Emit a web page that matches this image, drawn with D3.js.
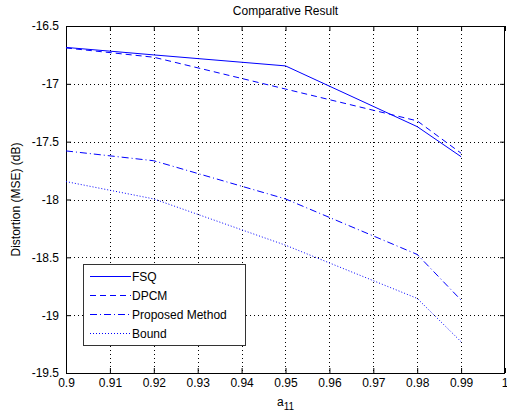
<!DOCTYPE html>
<html>
<head>
<meta charset="utf-8">
<script src="https://cdn.jsdelivr.net/npm/d3@7"></script>
<style>
  body { margin: 0; background: #fff; }
  svg { display: block; font-family: "Liberation Sans", Arial, sans-serif; }
</style>
</head>
<body>
<svg id="chart" width="507" height="412"></svg>
<script>
// values
const a11 = [0.9, 0.92, 0.95, 0.98, 0.99];
const fsq = [-16.685, -16.75, -16.845, -17.37, -17.63];
const dpcm = [-16.69, -16.77, -17.045, -17.32, -17.60];
const proposed = [-17.58, -17.665, -17.995, -18.475, -18.87];
const bound = [-17.845, -17.995, -18.395, -18.855, -19.23];
const xTicks = [0.9, 0.91, 0.92, 0.93, 0.94, 0.95, 0.96, 0.97, 0.98, 0.99, 1];
const yTicks = [-16.5, -17, -17.5, -18, -18.5, -19, -19.5];

const series = [
  { name: 'FSQ', values: fsq, dash: null },
  { name: 'DPCM', values: dpcm, dash: '6,4' },
  { name: 'Proposed Method', values: proposed, dash: '7,3,1,3' },
  { name: 'Bound', values: bound, dash: '1,2' }
];

const margin = { top: 26, right: 2, bottom: 39, left: 66 };
const width = 507 - margin.left - margin.right;
const height = 412 - margin.top - margin.bottom;

const svg = d3.select('#chart');
const g = svg.append('g')
  .attr('transform', `translate(${margin.left},${margin.top})`);

const x = d3.scaleLinear().domain([0.9, 1]).range([0, width]);
const y = d3.scaleLinear().domain([-19.5, -16.5]).range([height, 0]);

// grid
g.append('g').selectAll('line')
  .data(xTicks.slice(1, -1))
  .join('line')
  .attr('x1', d => Math.round(x(d)) + 0.5).attr('x2', d => Math.round(x(d)) + 0.5)
  .attr('y1', 0).attr('y2', height)
  .attr('stroke', '#000').attr('stroke-dasharray', '1,3');
g.append('g').selectAll('line')
  .data(yTicks.slice(1, -1))
  .join('line')
  .attr('y1', d => Math.round(y(d)) + 0.5).attr('y2', d => Math.round(y(d)) + 0.5)
  .attr('x1', 0).attr('x2', width)
  .attr('stroke', '#000').attr('stroke-dasharray', '1,3');

// axes (ticks inward, on all four sides)
const fmt = d => String(d);
const axB = g.append('g').attr('transform', `translate(0,${height})`)
  .call(d3.axisBottom(x).tickValues(xTicks).tickFormat(fmt).tickSizeInner(-5).tickSizeOuter(0).tickPadding(9));
const axT = g.append('g')
  .call(d3.axisTop(x).tickValues(xTicks).tickFormat('').tickSizeInner(-5).tickSizeOuter(0));
const axL = g.append('g')
  .call(d3.axisLeft(y).tickValues(yTicks).tickFormat(fmt).tickSizeInner(-5).tickSizeOuter(0).tickPadding(9));
const axR = g.append('g').attr('transform', `translate(${width},0)`)
  .call(d3.axisRight(y).tickValues(yTicks).tickFormat('').tickSizeInner(-5).tickSizeOuter(0));
[axB, axT, axL, axR].forEach(a => {
  a.select('.domain').remove();
  a.selectAll('text').attr('fill', '#000').style('font-size', '12px');
  a.selectAll('line').attr('stroke', '#000');
});
axB.selectAll('text').attr('dy', '0.45em');
// last label sits at the window edge, nudge it in so it shows whole
axB.selectAll('text').filter(d => d === 1).attr('text-anchor', 'end').attr('dx', 3);
axL.selectAll('text').attr('dx', '2');

g.append('rect')
  .attr('x', 0.5).attr('y', 0.5)
  .attr('width', width - 1).attr('height', height)
  .attr('fill', 'none').attr('stroke', '#000');

// lines
const line = d3.line()
  .x((d, i) => x(a11[i]))
  .y(d => y(d));

g.selectAll('.series')
  .data(series)
  .join('path')
  .attr('class', 'series')
  .attr('d', d => line(d.values))
  .attr('fill', 'none')
  .attr('stroke', '#0000ff')
  .attr('stroke-width', 1)
  .attr('stroke-dasharray', d => d.dash);

// legend
const legend = g.append('g').attr('transform', 'translate(17,238)');
legend.append('rect')
  .attr('x', 0.5).attr('y', 0.5)
  .attr('width', 162).attr('height', 81)
  .attr('fill', '#fff').attr('stroke', '#333');
const items = legend.selectAll('.item')
  .data(series)
  .join('g')
  .attr('class', 'item')
  .attr('transform', (d, i) => `translate(0,${12.5 + i * 19})`);
items.append('line')
  .attr('x1', 7).attr('x2', 48)
  .attr('stroke', '#0000ff')
  .attr('stroke-dasharray', d => d.dash);
items.append('text')
  .attr('x', 49).attr('dy', '0.35em')
  .style('font-size', '12px')
  .text(d => d.name);

// title and labels
svg.append('text')
  .attr('x', margin.left + width / 2).attr('y', 15)
  .attr('text-anchor', 'middle')
  .style('font-size', '12px')
  .text('Comparative Result');

svg.append('text')
  .attr('transform', `translate(20,${margin.top + height / 2}) rotate(-90)`)
  .attr('text-anchor', 'middle')
  .style('font-size', '12px')
  .text('Distortion (MSE) (dB)');

const xl = svg.append('text')
  .attr('x', margin.left + width / 2).attr('y', 406)
  .attr('text-anchor', 'middle')
  .style('font-size', '12px');
xl.append('tspan').text('a');
xl.append('tspan').attr('dy', 4).style('font-size', '10px').text('11');
</script>
</body>
</html>
